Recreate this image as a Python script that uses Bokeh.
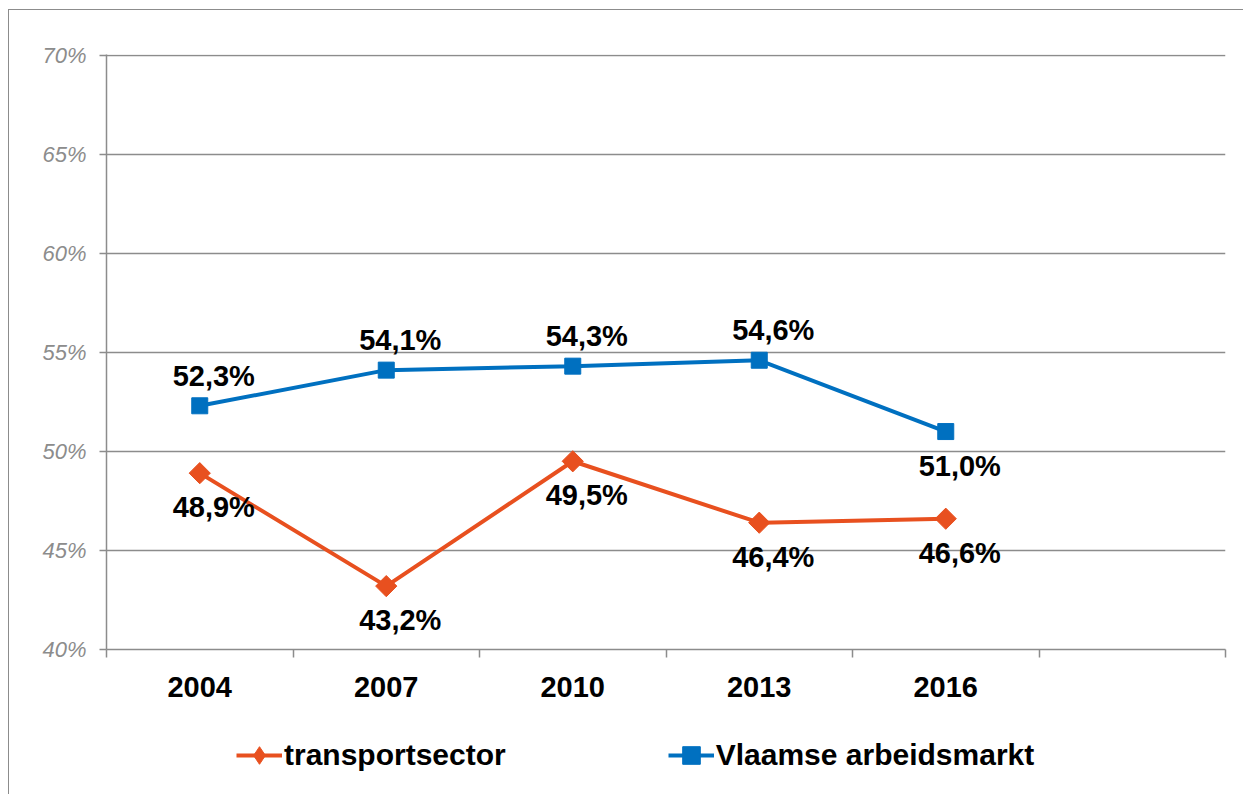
import math
from bokeh.plotting import figure
from bokeh.layouts import column
from bokeh.models import (ColumnDataSource, FixedTicker, NumeralTickFormatter, Legend, LegendItem, Range1d)
from bokeh.core.properties import value
from bokeh.embed import file_html
from bokeh.resources import INLINE

years = ["2004", "2007", "2010", "2013", "2016"]
transport = [48.9, 43.2, 49.5, 46.4, 46.6]
vlaamse = [52.3, 54.1, 54.3, 54.6, 51.0]
series_names = ["transportsector", "Vlaamse arbeidsmarkt"]
# label placement: 1 = above point, -1 = below point
vlaamse_pos = [1, 1, 1, 1, -1]
transport_pos = [-1, -1, -1, -1, -1]
y_ticks = [0.40, 0.45, 0.50, 0.55, 0.60, 0.65, 0.70]
n_slots = 6

FONT = "Liberation Sans"
ORANGE = "#E8501F"
BLUE = "#0070C0"
GREY = "#8C8C8C"

xs = [i + 0.5 for i in range(len(years))]

def fmt(v):
    return f"{v:.1f}%".replace(".", ",")

p = figure(width=1235, height=700, output_backend="svg", toolbar_location=None,
           x_range=Range1d(0, n_slots), y_range=Range1d(0.40, 0.7003),
           min_border_left=97, min_border_right=19, min_border_top=44, min_border_bottom=61)
p.styles = {"border-left": f"1px solid {GREY}", "border-top": f"1px solid {GREY}"}
p.outline_line_color = None
p.background_fill_color = "white"
p.border_fill_color = "white"

# axes
p.xaxis.ticker = FixedTicker(ticks=xs, minor_ticks=list(range(n_slots + 1)))
p.xaxis.major_label_overrides = {x: y for x, y in zip(xs, years)}
p.xaxis.major_tick_line_color = None
p.xaxis.minor_tick_out = 8
p.xaxis.minor_tick_in = 0
p.xaxis.minor_tick_line_color = GREY
p.xaxis.minor_tick_line_width = 1.5
p.xaxis.axis_line_color = GREY
p.xaxis.axis_line_width = 1.5
p.xaxis.major_label_text_font = FONT
p.xaxis.major_label_text_font_style = "bold"
p.xaxis.major_label_text_font_size = "29px"
p.xaxis.major_label_text_color = "black"
p.xaxis.major_label_standoff = 19

p.yaxis.ticker = FixedTicker(ticks=y_ticks)
p.yaxis.formatter = NumeralTickFormatter(format="0%")
p.yaxis.major_tick_out = 7
p.yaxis.major_tick_in = 0
p.yaxis.minor_tick_line_color = None
p.yaxis.major_tick_line_color = GREY
p.yaxis.major_tick_line_width = 1.5
p.yaxis.axis_line_color = GREY
p.yaxis.axis_line_width = 1.5
p.yaxis.major_label_text_font = FONT
p.yaxis.major_label_text_font_style = "italic"
p.yaxis.major_label_text_font_size = "22px"
p.yaxis.major_label_text_color = GREY
p.yaxis.major_label_standoff = 13

p.xgrid.grid_line_color = None
p.ygrid.ticker = FixedTicker(ticks=y_ticks)
p.ygrid.grid_line_color = GREY
p.ygrid.grid_line_width = 1.5

src_t = ColumnDataSource(dict(x=xs, y=[v / 100 for v in transport],
                              lab=[fmt(v) for v in transport],
                              off=[34 if s < 0 else -30 for s in transport_pos]))
src_v = ColumnDataSource(dict(x=xs, y=[v / 100 for v in vlaamse],
                              lab=[fmt(v) for v in vlaamse],
                              off=[34 if s < 0 else -30 for s in vlaamse_pos]))

p.line("x", "y", source=src_t, line_color=ORANGE, line_width=4)
p.scatter("x", "y", source=src_t, marker="square", angle=math.pi / 4, size=15,
          fill_color=ORANGE, line_color=ORANGE)
p.line("x", "y", source=src_v, line_color=BLUE, line_width=4)
p.scatter("x", "y", source=src_v, marker="square", size=16,
          fill_color=BLUE, line_color=BLUE)

for src in (src_t, src_v):
    p.text("x", "y", text="lab", source=src, x_offset=14, y_offset="off",
           text_align="center", text_baseline="middle",
           text_font=value(FONT), text_font_style="bold", text_font_size="29px",
           text_color="black")

# legend strip below the chart
q = figure(width=1235, height=85, output_backend="svg", toolbar_location=None,
           x_range=Range1d(0, 1), y_range=Range1d(0, 1),
           min_border_left=0, min_border_right=0, min_border_top=0, min_border_bottom=0)
q.styles = {"border-left": f"1px solid {GREY}"}
q.axis.visible = False
q.grid.grid_line_color = None
q.outline_line_color = None
q.background_fill_color = "white"
q.border_fill_color = "white"

nan = float("nan")
def blank():
    return ColumnDataSource(dict(x=[nan], y=[nan]))

ql_t = q.line("x", "y", source=blank(), line_color=ORANGE, line_width=4)
qm_t = q.scatter("x", "y", source=blank(), marker="diamond", size=19,
                 fill_color=ORANGE, line_color=ORANGE)
ql_v = q.line("x", "y", source=blank(), line_color=BLUE, line_width=4)
qm_v = q.scatter("x", "y", source=blank(), marker="square", size=14,
                 fill_color=BLUE, line_color=BLUE)

legend = Legend(items=[LegendItem(label=series_names[0], renderers=[ql_t, qm_t]),
                       LegendItem(label=series_names[1], renderers=[ql_v, qm_v])],
                orientation="horizontal", location=(130, 17),
                label_text_font=FONT, label_text_font_style="bold",
                label_text_font_size="30px", label_text_color="black",
                glyph_width=46, glyph_height=44, spacing=162, label_standoff=2,
                border_line_color=None, background_fill_alpha=0, margin=0, padding=0)
q.add_layout(legend, "center")

layout = column(p, q, spacing=0)
layout.styles = {"margin-left": "8px", "margin-top": "9px"}
open("out.html", "w").write(file_html(layout, INLINE))
